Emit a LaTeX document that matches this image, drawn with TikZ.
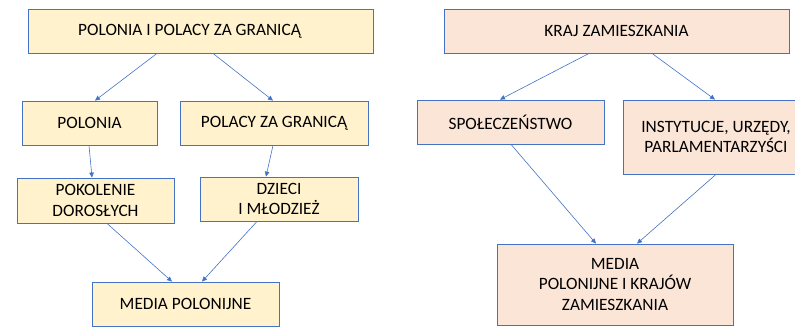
\documentclass[tikz,border=0pt]{standalone}
\usepackage{fontspec}
\setmainfont{Carlito}
\usepackage{xcolor}
\usepackage{tikz}
\usetikzlibrary{arrows.meta}
\definecolor{C0}{HTML}{4472C4}
\definecolor{Y0}{HTML}{FFF2CC}
\definecolor{R0}{HTML}{FBE5D6}

\begin{document}
\begin{tikzpicture}[x=1pt,y=-1pt]
\tikzstyle{box}=[draw=C0,line width=0.8pt,shape=rectangle,align=center,inner sep=0pt,font=\fontsize{17.3}{20.5}\selectfont]
\tikzstyle{yb}=[box,fill=Y0]
\tikzstyle{rb}=[box,fill=R0]
\tikzstyle{arr}=[draw=C0,line width=0.6pt,-{Triangle[length=5pt,width=4.5pt]}]
\useasboundingbox (0,0) rectangle (795,327);

% left: Polonia
\node[yb,minimum width=345pt,minimum height=44pt](top) at (200.5,31){POLONIA I POLACY ZA GRANICĄ\hspace*{22pt}};
\node[yb,minimum width=135pt,minimum height=44pt](pol) at (89.5,123){POLONIA};
\node[yb,minimum width=188pt,minimum height=44pt](pza) at (274,123){POLACY ZA GRANICĄ};
\node[yb,minimum width=157pt,minimum height=45pt](pok) at (95.5,200.5){POKOLENIE\\DOROSŁYCH};
\node[yb,minimum width=158pt,minimum height=44pt](dzi) at (279,199){DZIECI\\I MŁODZIEŻ};
\node[yb,minimum width=187pt,minimum height=44pt](med) at (185.5,304){MEDIA POLONIJNE};
%
% right: kraj zamieszkania
\node[rb,minimum width=345pt,minimum height=44pt](kraj) at (616.5,31){KRAJ ZAMIESZKANIA};
\node[rb,minimum width=187pt,minimum height=44pt](spo) at (510.5,122){SPOŁECZEŃSTWO};
\node[rb,minimum width=186pt,minimum height=74pt](ins) at (716,137){INSTYTUCJE, URZĘDY,\\PARLAMENTARZYŚCI};
\node[rb,minimum width=236pt,minimum height=81pt](medk) at (615,284.5){MEDIA\\POLONIJNE I KRAJÓW\\ZAMIESZKANIA};
%
\draw[arr] ([xshift=-43.5pt]top.south) -- ([xshift=5.5pt]pol.north);
\draw[arr] ([xshift=12.5pt]top.south) -- ([xshift=-1pt]pza.north);
\draw[arr] ([xshift=-0.5pt]pol.south) -- ([xshift=-3.5pt]pok.north);
\draw[arr] ([xshift=-1pt]pza.south) -- ([xshift=-13pt]dzi.north);
\draw[arr] ([xshift=11.5pt]pok.south) -- ([xshift=-13.5pt]med.north);
\draw[arr] ([xshift=-22pt]dzi.south) -- ([xshift=16.5pt]med.north);
%
\draw[arr] ([xshift=-27.5pt]kraj.south) -- ([xshift=-10.5pt]spo.north);
\draw[arr] ([xshift=35.5pt]kraj.south) -- ([xshift=-1pt]ins.north);
\draw[arr] ([xshift=0.5pt]spo.south) -- ([xshift=-19pt]medk.north);
\draw[arr] (ins.south) -- ([xshift=22pt]medk.north);
\end{tikzpicture}
\end{document}
